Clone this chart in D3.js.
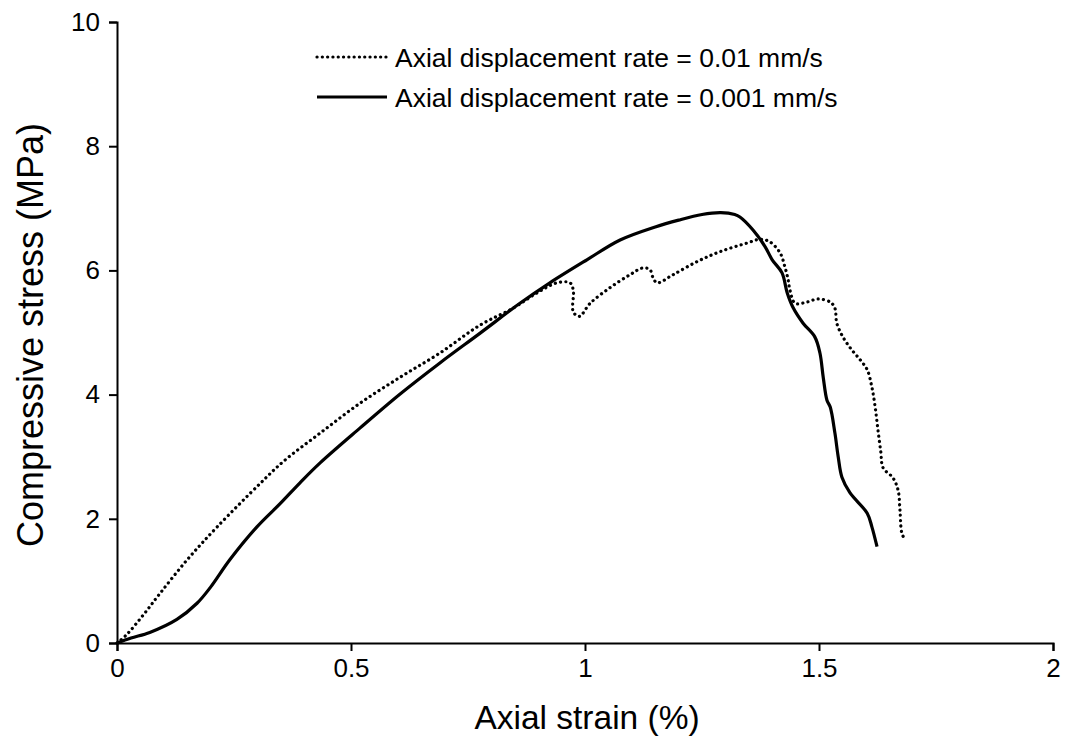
<!DOCTYPE html>
<html>
<head>
<meta charset="utf-8">
<script src="https://cdn.jsdelivr.net/npm/d3@7"></script>
<style>
  html, body { margin: 0; padding: 0; background: #fff; }
  svg text { font-family: "Liberation Sans", Arial, sans-serif; fill: #000; }
</style>
</head>
<body>
<svg id="chart" width="1066" height="740"></svg>
<script>
// ---- data ----
const xTicks = [0, 0.5, 1, 1.5, 2];
const yTicks = [0, 2, 4, 6, 8, 10];
const seriesNames = ["Axial displacement rate = 0.01 mm/s", "Axial displacement rate = 0.001 mm/s"];

const fastStrain = [0, 0.02, 0.056, 0.092, 0.15, 0.214, 0.306, 0.355, 0.434, 0.519, 0.605, 0.69, 0.776, 0.846, 0.9, 0.94, 0.968, 0.975, 0.975, 0.988, 1.011, 1.053, 1.096, 1.124, 1.139, 1.145, 1.154, 1.188, 1.239, 1.288, 1.346, 1.374, 1.395, 1.417, 1.427, 1.434, 1.438, 1.449, 1.474, 1.498, 1.524, 1.534, 1.538, 1.551, 1.57, 1.588, 1.603, 1.613, 1.62, 1.626, 1.632, 1.637, 1.658, 1.669, 1.673, 1.677, 1.684];
const fastStress = [0, 0.13, 0.45, 0.8, 1.34, 1.87, 2.57, 2.92, 3.38, 3.86, 4.28, 4.67, 5.12, 5.39, 5.65, 5.80, 5.80, 5.68, 5.33, 5.26, 5.47, 5.72, 5.93, 6.04, 6.01, 5.89, 5.80, 5.93, 6.14, 6.30, 6.44, 6.50, 6.46, 6.28, 6.06, 5.85, 5.68, 5.47, 5.49, 5.54, 5.49, 5.39, 5.15, 4.93, 4.72, 4.56, 4.40, 4.12, 3.80, 3.43, 3.08, 2.82, 2.66, 2.46, 2.14, 1.77, 1.66];

const slowStrain = [0, 0.03, 0.07, 0.128, 0.171, 0.2, 0.241, 0.299, 0.348, 0.391, 0.434, 0.519, 0.605, 0.69, 0.776, 0.861, 0.925, 1.004, 1.075, 1.15, 1.2, 1.25, 1.29, 1.32, 1.331, 1.359, 1.385, 1.40, 1.421, 1.432, 1.444, 1.466, 1.491, 1.502, 1.509, 1.517, 1.524, 1.534, 1.541, 1.549, 1.566, 1.603, 1.613, 1.624];
const slowStress = [0, 0.08, 0.17, 0.38, 0.64, 0.9, 1.34, 1.87, 2.24, 2.58, 2.90, 3.46, 4.01, 4.51, 4.99, 5.47, 5.80, 6.17, 6.49, 6.70, 6.81, 6.90, 6.93, 6.90, 6.86, 6.65, 6.38, 6.17, 5.96, 5.64, 5.41, 5.15, 4.93, 4.67, 4.28, 3.91, 3.80, 3.38, 3.00, 2.67, 2.42, 2.09, 1.87, 1.55];

// ---- layout ----
const svg = d3.select("#chart");
const x = d3.scaleLinear().domain([0, 2]).range([117, 1053]);
const y = d3.scaleLinear().domain([0, 10]).range([643, 22]);

// axes
const xAxis = svg.append("g").attr("transform", "translate(0,643)")
  .call(d3.axisBottom(x).tickValues(xTicks).tickFormat(d3.format("")).tickSizeOuter(0).tickSize(8).tickPadding(8));
const yAxis = svg.append("g").attr("transform", "translate(117,0)")
  .call(d3.axisLeft(y).tickValues(yTicks).tickFormat(d3.format("")).tickSizeOuter(0).tickSize(8).tickPadding(9));
[xAxis, yAxis].forEach(a => {
  a.select(".domain").attr("stroke", "#000").attr("stroke-width", 2);
  a.selectAll(".tick line").attr("stroke", "#000").attr("stroke-width", 2);
  a.selectAll(".tick text").style("font-size", "26px").style("font-family", "'Liberation Sans', Arial, sans-serif").attr("fill", "#000");
});

// axis titles
svg.append("text").attr("x", 587).attr("y", 729).attr("text-anchor", "middle")
  .style("font-size", "33.5px").text("Axial strain (%)");
svg.append("text").attr("transform", "translate(43,335) rotate(-90)").attr("text-anchor", "middle")
  .style("font-size", "36px").text("Compressive stress (MPa)");

// lines
const line = d3.line().x(d => x(d[0])).y(d => y(d[1])).curve(d3.curveCatmullRom.alpha(0.5));
const fast = fastStrain.map((s, i) => [s, fastStress[i]]);
const slow = slowStrain.map((s, i) => [s, slowStress[i]]);

svg.append("path").datum(slow).attr("d", line)
  .attr("fill", "none").attr("stroke", "#000").attr("stroke-width", 3.2).attr("stroke-linejoin", "round");
svg.append("path").datum(fast).attr("d", line)
  .attr("fill", "none").attr("stroke", "#000").attr("stroke-width", 3.2)
  .attr("stroke-linecap", "round").attr("stroke-dasharray", "0.1,5.2");

// legend
const legend = svg.append("g");
const rows = [
  {name: seriesNames[0], y: 57, dash: "0.1,5.2", cap: "round"},
  {name: seriesNames[1], y: 97, dash: null, cap: "butt"}
];
rows.forEach(r => {
  legend.append("line").attr("x1", 317).attr("x2", 387).attr("y1", r.y).attr("y2", r.y)
    .attr("stroke", "#000").attr("stroke-width", 3.2)
    .attr("stroke-linecap", r.cap).attr("stroke-dasharray", r.dash);
  legend.append("text").attr("x", 395).attr("y", r.y + 9.5).style("font-size", "26.5px").text(r.name);
});
</script>
</body>
</html>
